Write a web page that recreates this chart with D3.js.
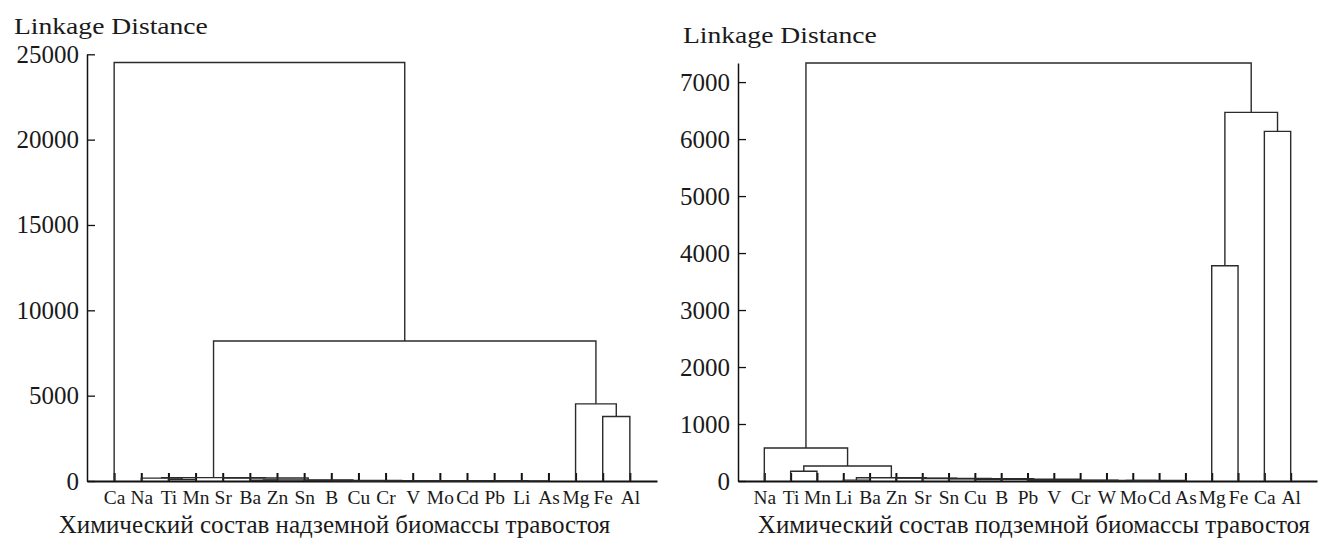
<!DOCTYPE html>
<html>
<head>
<meta charset="utf-8">
<script src="https://cdn.jsdelivr.net/npm/d3@7"></script>
<style>
  body { margin: 0; background: #fff; }
  text { font-family: "Liberation Serif", "Times New Roman", serif; fill: #1a1a1a; }
</style>
</head>
<body>
<svg id="chart" width="1325" height="538"></svg>
<script>
// ---- data ----
const yLabel = "Linkage Distance";

// left: above-ground biomass
const leftLeaves = ["Ca","Na","Ti","Mn","Sr","Ba","Zn","Sn","B","Cu","Cr","V","Mo","Cd","Pb","Li","As","Mg","Fe","Al"];
// [node, child 1, child 2, linkage distance]
const leftLinks = [
  ["TiMn","Ti","Mn",90],
  ["NaTiMn","Na","TiMn",170],
  ["BaZn","Ba","Zn",40],
  ["CuCr","Cu","Cr",8],
  ["BCr","B","CuCr",10],
  ["MoCd","Mo","Cd",5],
  ["PbLi","Pb","Li",6],
  ["PbAs","PbLi","As",9],
  ["MoAs","MoCd","PbAs",12],
  ["VAs","V","MoAs",14],
  ["BAs","BCr","VAs",18],
  ["SnAs","Sn","BAs",25],
  ["BaAs","BaZn","SnAs",60],
  ["SrAs","Sr","BaAs",180],
  ["NaAs","NaTiMn","SrAs",200],
  ["FeAl","Fe","Al",3780],
  ["MgAl","Mg","FeAl",4520],
  ["NaAl","NaAs","MgAl",8200],
  ["CaAl","Ca","NaAl",24520]
];
const leftTicks = [0,5000,10000,15000,20000,25000];
const leftTitle = "Химический состав надземной биомассы травостоя";

// right: below-ground biomass
const rightLeaves = ["Na","Ti","Mn","Li","Ba","Zn","Sr","Sn","Cu","B","Pb","V","Cr","W","Mo","Cd","As","Mg","Fe","Ca","Al"];
const rightLinks = [
  ["LiBa","Li","Ba",15],
  ["CuB","Cu","B",25],
  ["PbV","Pb","V",12],
  ["MoCd","Mo","Cd",3],
  ["WCd","W","MoCd",6],
  ["WAs","WCd","As",8],
  ["CrAs","Cr","WAs",10],
  ["PbAs","PbV","CrAs",14],
  ["CuAs","CuB","PbAs",30],
  ["SnAs","Sn","CuAs",40],
  ["SrAs","Sr","SnAs",45],
  ["ZnAs","Zn","SrAs",50],
  ["LiAs","LiBa","ZnAs",58],
  ["TiMn","Ti","Mn",170],
  ["TiAs","TiMn","LiAs",263],
  ["NaAs","Na","TiAs",580],
  ["MgFe","Mg","Fe",3777],
  ["CaAl","Ca","Al",6135],
  ["MgAl","MgFe","CaAl",6468],
  ["NaAl","NaAs","MgAl",7335]
];
const rightTicks = [0,1000,2000,3000,4000,5000,6000,7000];
const rightTitle = "Химический состав подземной биомассы травостоя";

const svg = d3.select("#chart");
const serif = '"Liberation Serif", "Times New Roman", serif';

function drawTree(cfg) {
  const x = d3.scalePoint().domain(cfg.leaves).range(cfg.xRange).padding(1);
  const y = d3.scaleLinear().domain(cfg.yDomain).range(cfg.yRange);

  // node positions: leaves from the scale, clusters at the middle of their children
  const pos = {}, dist = {};
  cfg.leaves.forEach(l => { pos[l] = x(l); dist[l] = 0; });
  cfg.links.forEach(([id, a, b, h]) => { pos[id] = (pos[a] + pos[b]) / 2; dist[id] = h; });

  const g = svg.append("g");

  // y axis, ticks pointing inward
  const yAxis = d3.axisLeft(y)
    .tickValues(cfg.ticks)
    .tickSizeInner(-8)
    .tickSizeOuter(0)
    .tickPadding(8)
    .tickFormat(d3.format("d"));
  const yG = g.append("g")
    .attr("transform", `translate(${cfg.xRange[0]},0)`)
    .call(yAxis)
    .attr("font-family", serif)
    .attr("font-size", 25);
  yG.select(".domain").attr("stroke", "#111").attr("stroke-width", 1.5);
  yG.selectAll(".tick line").attr("stroke", "#111").attr("stroke-width", 1.3);
  yG.selectAll(".tick text").attr("fill", "#1a1a1a");

  // x axis with element names
  const xAxis = d3.axisBottom(x)
    .tickSizeInner(-8)
    .tickSizeOuter(0)
    .tickPadding(10);
  const xG = g.append("g")
    .attr("transform", `translate(0,${cfg.yRange[0]})`)
    .call(xAxis)
    .attr("font-family", serif)
    .attr("font-size", 18);
  xG.select(".domain").attr("stroke", "#111").attr("stroke-width", 1.8);
  xG.selectAll(".tick line").attr("stroke", "#111").attr("stroke-width", 2);
  xG.selectAll(".tick text").attr("fill", "#1a1a1a").attr("transform", "scale(1.08,1)");

  // dendrogram links
  g.append("g")
    .selectAll("path")
    .data(cfg.links)
    .join("path")
    .attr("d", ([id, a, b, h]) =>
      `M${pos[a]},${y(dist[a])}V${y(h)}H${pos[b]}V${y(dist[b])}`)
    .attr("fill", "none")
    .attr("stroke", "#2b2b2b")
    .attr("stroke-width", 1.4);

  // axis caption
  g.append("text")
    .attr("transform", `translate(${cfg.labelPos[0]},${cfg.labelPos[1]}) scale(1.15,1)`)
    .attr("font-size", 24)
    .text(yLabel);

  // title under the chart
  g.append("text")
    .attr("x", cfg.titleX)
    .attr("y", 533)
    .attr("text-anchor", "middle")
    .attr("font-size", 25)
    .text(cfg.title);
}

drawTree({
  leaves: leftLeaves, links: leftLinks, ticks: leftTicks, title: leftTitle,
  xRange: [87, 657], yDomain: [0, 25000], yRange: [481, 54.3],
  labelPos: [14, 34], titleX: 334.5
});

drawTree({
  leaves: rightLeaves, links: rightLinks, ticks: rightTicks, title: rightTitle,
  xRange: [738, 1317], yDomain: [0, 7335], yRange: [481, 63],
  labelPos: [683, 43], titleX: 1034
});
</script>
</body>
</html>
